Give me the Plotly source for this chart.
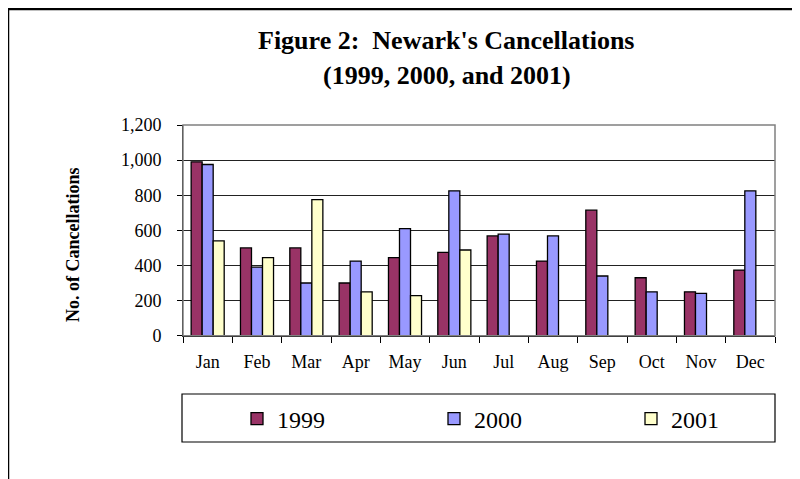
import plotly.graph_objects as go

months = ["Jan", "Feb", "Mar", "Apr", "May", "Jun", "Jul", "Aug", "Sep", "Oct", "Nov", "Dec"]
y1999 = [990, 500, 500, 300, 445, 475, 568, 425, 715, 330, 250, 374]
y2000 = [975, 390, 300, 425, 610, 825, 578, 568, 340, 250, 241, 825]
y2001 = [540, 445, 775, 250, 228, 488, None, None, None, None, None, None]
series_names = ["1999", "2000", "2001"]
colors = ["#993366", "#9999FF", "#FFFFCC"]
y_ticks = [0, 200, 400, 600, 800, 1000, 1200]

W, H = 800, 479
OFF = 8  # page body margin offset
FONT = "Liberation Serif, serif"

def px(x):
    return (x - OFF) / W

def py(y):
    return 1 - (y - OFF) / H

fig = go.Figure()
for name, vals, col in zip(series_names, [y1999, y2000, y2001], colors):
    fig.add_trace(go.Bar(
        x=months, y=vals, name=name,
        marker=dict(color=col, line=dict(color="black", width=1.3)),
    ))

xd = [px(183), px(775)]
yd = [py(335.7), py(125)]

fig.update_layout(
    width=W, height=H,
    margin=dict(l=0, r=0, t=0, b=0, pad=0, autoexpand=False),
    paper_bgcolor="white", plot_bgcolor="white",
    barmode="group", bargap=0.33, bargroupgap=0,
    font=dict(family=FONT, color="black", size=18),
    xaxis=dict(
        domain=xd, showline=True, linecolor="black", linewidth=1,
        ticks="outside", tickson="boundaries", ticklen=6, tickcolor="black",
        tickfont=dict(size=18, family=FONT), ticklabelstandoff=10,
        showgrid=False, automargin=False, fixedrange=True,
    ),
    yaxis=dict(
        domain=yd, range=[0, 1200], tickvals=y_ticks, tickformat=",d",
        showline=True, linecolor="black", linewidth=1,
        ticks="outside", ticklen=5, tickcolor="black",
        tickfont=dict(size=18, family=FONT), ticklabelstandoff=12,
        showgrid=True, gridcolor="#222222", gridwidth=1,
        zeroline=False, automargin=False, fixedrange=True,
    ),
    showlegend=True,
    legend=dict(
        orientation="h", x=px(237), xanchor="left", y=py(419), yanchor="middle",
        font=dict(size=24, family=FONT, color="black"), entrywidth=152, entrywidthmode="pixels",
        borderwidth=0, bgcolor="rgba(0,0,0,0)", traceorder="normal",
    ),
    shapes=[
        dict(type="rect", xref="paper", yref="paper", x0=xd[0], x1=xd[1], y0=yd[0], y1=yd[1],
             line=dict(color="#808080", width=1.5), layer="above"),
        dict(type="rect", xref="paper", yref="paper", x0=px(182), x1=px(775), y0=py(442), y1=py(394),
             line=dict(color="black", width=1.2)),
        dict(type="rect", xref="paper", yref="paper", x0=0, x1=1.05, y0=-0.05, y1=py(9),
             line=dict(color="black", width=2.5)),
    ],
    annotations=[
        dict(text="<b>Figure 2:\u00a0 Newark's Cancellations</b>", xref="paper", yref="paper",
             x=px(446), y=py(40), xanchor="center", yanchor="middle", showarrow=False,
             font=dict(size=26, family=FONT)),
        dict(text="<b>(1999, 2000, and 2001)</b>", xref="paper", yref="paper",
             x=px(447), y=py(76), xanchor="center", yanchor="middle", showarrow=False,
             font=dict(size=26, family=FONT)),
        dict(text="<b>No. of Cancellations</b>", xref="paper", yref="paper",
             x=px(73), y=py(245), xanchor="center", yanchor="middle", showarrow=False,
             textangle=-90, font=dict(size=18, family=FONT)),
    ],
)

fig.write_html("out.html")
